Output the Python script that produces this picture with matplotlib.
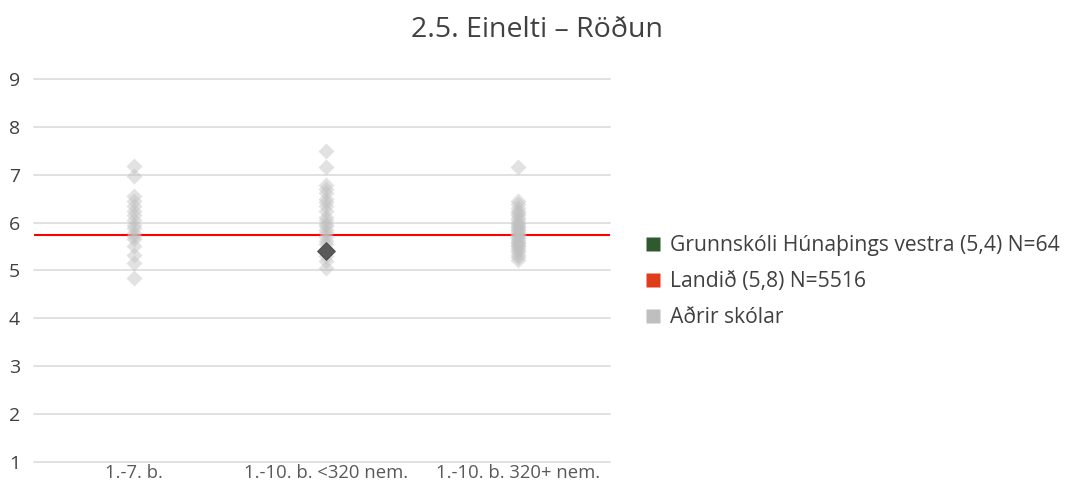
import matplotlib
matplotlib.use("Agg")
import matplotlib.pyplot as plt
from matplotlib.lines import Line2D

plt.rcParams['font.family'] = ['Open Sans', 'DejaVu Sans']

title = "2.5. Einelti – Röðun"
categories = ["1.-7. b.", "1.-10. b. <320 nem.", "1.-10. b. 320+ nem."]

# Other schools (Aðrir skólar), per category
others_g1 = [7.19, 6.98, 6.55, 6.45, 6.35, 6.25, 6.15, 6.05, 5.95, 5.88, 5.78,
             5.72, 5.65, 5.5, 5.32, 5.15, 4.85]
others_g2 = [7.5, 7.15, 6.78, 6.7, 6.62, 6.5, 6.42, 6.35, 6.25, 6.12, 6.05, 5.98,
             5.92, 5.85, 5.78, 5.7, 5.62, 5.55, 5.45, 5.3, 5.2, 5.05]
others_g3 = [7.15, 6.45, 6.38, 6.3, 6.25, 6.2, 6.15, 6.1, 6.05, 6.0, 5.97, 5.93,
             5.9, 5.87, 5.84, 5.8, 5.77, 5.74, 5.7, 5.67, 5.64, 5.6, 5.57, 5.53,
             5.5, 5.46, 5.42, 5.38, 5.33, 5.28, 5.22]
others = [others_g1, others_g2, others_g3]

school_category = 1
school_value = 5.4
national_value = 5.74

legend_labels = ["Grunnskóli Húnaþings vestra (5,4) N=64",
                 "Landið (5,8) N=5516",
                 "Aðrir skólar"]

fig = plt.figure(figsize=(10.65, 4.84), dpi=100)
ax = fig.add_axes([0.032, 0.0455, 0.541, 0.7915])

for i, vals in enumerate(others):
    ax.plot([i] * len(vals), vals, linestyle='none', marker='D', markersize=8.4,
            markerfacecolor='#bfbfbf', markeredgecolor='none', alpha=0.45, zorder=3)

ax.plot([school_category], [school_value], linestyle='none', marker='D',
        markersize=9.5, markerfacecolor='#595959', markeredgecolor='#404040',
        markeredgewidth=0.5, zorder=4)

ax.axhline(national_value, color='#ff0000', linewidth=1.5, zorder=2)

ax.set_xlim(-0.52, 2.48)
ax.set_ylim(1, 9)
ax.set_yticks(range(1, 10))
ax.set_xticks(range(len(categories)))
ax.set_xticklabels(categories)
ax.grid(axis='y', color='#d9d9d9', linewidth=1.1, zorder=1)
for gl in ax.get_ygridlines():
    gl.set_clip_on(False)
ax.set_axisbelow(True)
for s in ax.spines.values():
    s.set_visible(False)
ax.tick_params(axis='both', length=0)
ax.tick_params(axis='y', labelsize=14, labelcolor='#404040', pad=10)
ax.tick_params(axis='x', labelsize=13.3, labelcolor='#595959', pad=1.5)

fig.text(0.504, 0.937, title, ha='center', va='center', fontsize=20.5, color='#404040')

handles = [Line2D([], [], linestyle='none', marker='s', markersize=10,
                  markerfacecolor=c, markeredgecolor='none')
           for c in ['#2e5a2e', '#e03c1a', '#bfbfbf']]
fig.legend(handles, legend_labels, loc='center left', bbox_to_anchor=(0.597, 0.418),
           frameon=False, fontsize=15.2, labelcolor='#404040', handlelength=0.8,
           handletextpad=0.4, labelspacing=0.72, borderaxespad=0)

fig.savefig("out.png", dpi=100)
